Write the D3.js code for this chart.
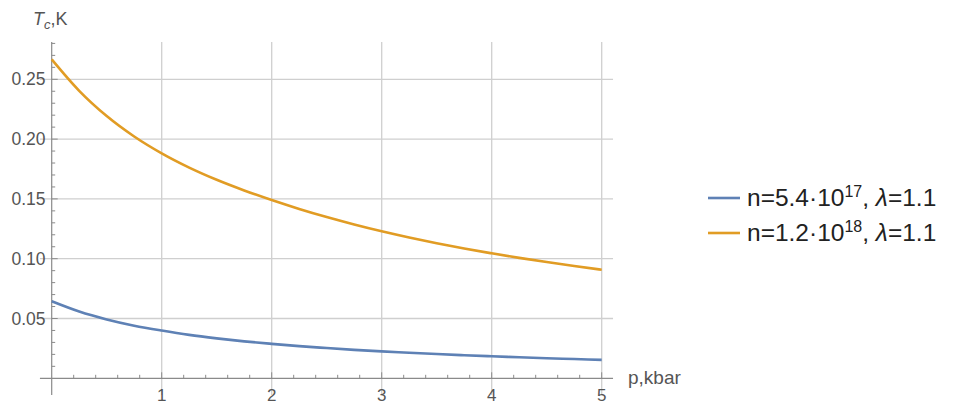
<!DOCTYPE html>
<html><head><meta charset="utf-8">
<script src="https://cdn.jsdelivr.net/npm/d3@7"></script>
<style>body{margin:0;background:#fff}svg{display:block}</style>
</head><body>
<svg id="c" width="954" height="405"></svg>
<script>
const pressure = [0,0.25,0.5,0.75,1,1.25,1.5,1.75,2,2.25,2.5,2.75,3,3.25,3.5,3.75,4,4.25,4.5,4.75,5];
const tcLow  = [0.0644,0.0558,0.0492,0.0440,0.0399,0.0363,0.0334,0.0309,0.0288,0.0269,0.0253,0.0238,0.0225,0.0214,0.0203,0.0193,0.0184,0.0176,0.0168,0.0161,0.0154];
const tcHigh = [0.2667,0.2404,0.2193,0.2022,0.1881,0.1762,0.1660,0.1571,0.1490,0.1416,0.1348,0.1286,0.1229,0.1177,0.1129,0.1085,0.1045,0.1007,0.0972,0.0939,0.0908];
const xTicks = [1,2,3,4,5];
const yTicks = [0.05,0.10,0.15,0.20,0.25];
const yTickLabels = ["0.05","0.10","0.15","0.20","0.25"];
const seriesNames = [
  {n:"n=5.4·10", e:"17"},
  {n:"n=1.2·10", e:"18"}
];
const lambdaText = "=1.1";
const colors = ["#5E81B5","#E19C24"];

const svg = d3.select("#c");
const x = d3.scaleLinear().domain([0,5]).range([51.7,601.7]);
const y = d3.scaleLinear().domain([0,0.25]).range([378.3,79.3]);
const xMin = -0.107, xMax = 5.103, yMin = -0.0139, yMax = 0.2812;
const font = "'Liberation Sans', Arial, sans-serif";
const grey = "#8a8a8a";

// grid
const g = svg.append("g");
g.selectAll(".vg").data(xTicks).join("line")
  .attr("x1",d=>x(d)).attr("x2",d=>x(d)).attr("y1",y(yMax)).attr("y2",y(yMin))
  .attr("stroke","#cfcfcf").attr("stroke-width",1.3);
g.selectAll(".hg").data(yTicks).join("line")
  .attr("x1",x(xMin)).attr("x2",x(xMax)).attr("y1",d=>y(d)).attr("y2",d=>y(d))
  .attr("stroke","#cfcfcf").attr("stroke-width",1.3);

// axes
const ax = svg.append("g");
ax.append("line").attr("x1",x(xMin)).attr("x2",x(xMax)).attr("y1",y(0)).attr("y2",y(0))
  .attr("stroke",grey).attr("stroke-width",1.2);
ax.append("line").attr("x1",x(0)).attr("x2",x(0)).attr("y1",y(yMax)).attr("y2",y(yMin))
  .attr("stroke",grey).attr("stroke-width",1.2);
const xMinor = d3.range(0,5.01,0.2).map(v=>+v.toFixed(2)).filter(v=>v>0);
ax.selectAll(".xt").data(xMinor).join("line")
  .attr("x1",d=>x(d)).attr("x2",d=>x(d)).attr("y1",y(0))
  .attr("y2",d=>Math.abs(d-Math.round(d))<1e-6 ? y(0)-6 : y(0)-3.5)
  .attr("stroke",grey).attr("stroke-width",1);
const yMinor = d3.range(0.01,0.2801,0.01).map(v=>+v.toFixed(3));
ax.selectAll(".yt").data(yMinor).join("line")
  .attr("y1",d=>y(d)).attr("y2",d=>y(d)).attr("x1",x(0))
  .attr("x2",d=>Math.abs(d*20-Math.round(d*20))<1e-6 ? x(0)+6 : x(0)+3.5)
  .attr("stroke",grey).attr("stroke-width",1);

// tick labels
ax.selectAll(".xl").data(xTicks).join("text")
  .attr("x",d=>x(d)).attr("y",401).attr("text-anchor","middle")
  .attr("font-family",font).attr("font-size",17).attr("fill","#555").text(d=>d);
ax.selectAll(".yl").data(yTicks).join("text")
  .attr("x",45.5).attr("y",d=>y(d)+6).attr("text-anchor","end")
  .attr("font-family",font).attr("font-size",17.5).attr("fill","#555").text((d,i)=>yTickLabels[i]);

// axis labels
const tl = ax.append("text").attr("x",33).attr("y",25).attr("font-family",font).attr("font-size",18).attr("fill","#555");
tl.append("tspan").attr("font-style","italic").text("T");
tl.append("tspan").attr("font-style","italic").attr("font-size",13).attr("dy",4).text("c");
tl.append("tspan").attr("dy",-4).text(",K");
ax.append("text").attr("x",628).attr("y",384).attr("font-family",font).attr("font-size",19).attr("fill","#555").text("p,kbar");

// curves
const line = d3.line().x(d=>x(d[0])).y(d=>y(d[1])).curve(d3.curveMonotoneX);
[tcLow,tcHigh].forEach((s,i)=>{
  svg.append("path").datum(pressure.map((p,j)=>[p,s[j]]))
    .attr("d",line).attr("fill","none").attr("stroke",colors[i]).attr("stroke-width",2.6);
});

// legend
const legY = [198,233];
seriesNames.forEach((s,i)=>{
  const lg = svg.append("g");
  lg.append("line").attr("x1",708).attr("x2",740).attr("y1",legY[i]).attr("y2",legY[i])
    .attr("stroke",colors[i]).attr("stroke-width",2.6);
  const t = lg.append("text").attr("x",747).attr("y",legY[i]+8).attr("font-family",font)
    .attr("font-size",24.5).attr("fill","#222");
  t.append("tspan").text(s.n);
  t.append("tspan").attr("font-size",16).attr("dy",-9.5).text(s.e);
  t.append("tspan").attr("dy",9.5).text(", ");
  t.append("tspan").attr("font-style","italic").text("λ");
  t.append("tspan").text(lambdaText);
});
</script>
</body></html>
